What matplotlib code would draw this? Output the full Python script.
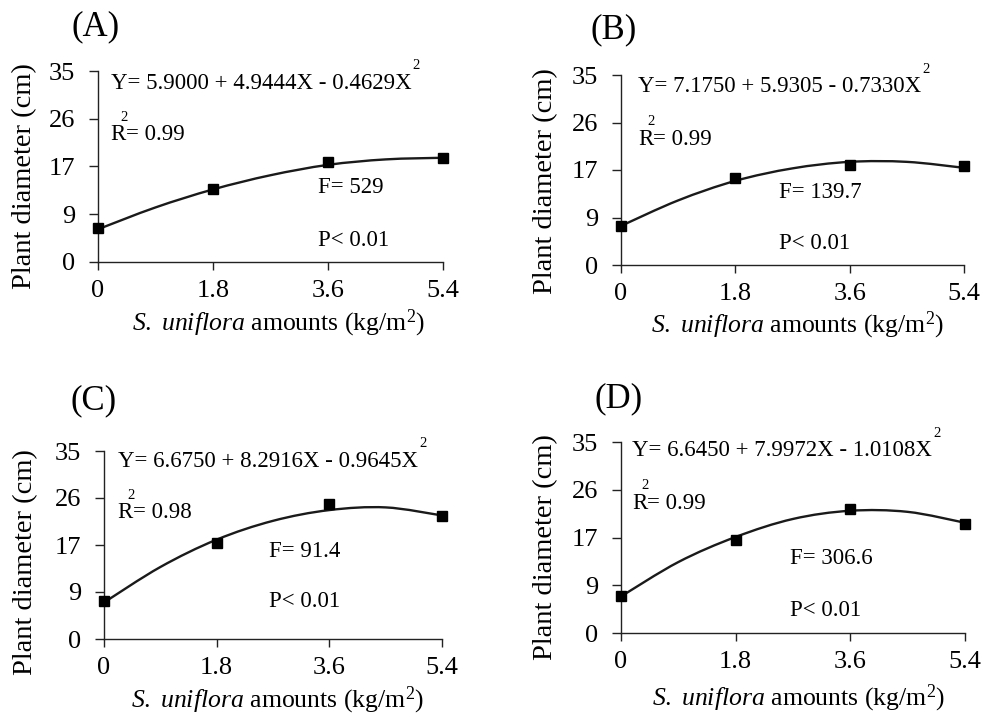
import matplotlib
matplotlib.use('Agg')
import matplotlib.pyplot as plt
from matplotlib.path import Path
from matplotlib.patches import PathPatch

plt.rcParams['font.family'] = ['Liberation Serif', 'DejaVu Serif']
plt.rcParams['mathtext.fontset'] = 'custom'
plt.rcParams['mathtext.rm'] = 'Liberation Serif'
plt.rcParams['mathtext.it'] = 'Liberation Serif:italic'

# ---------------- data ----------------
amounts = [0, 1.8, 3.6, 5.4]
xtick_labels = ['0', '1.8', '3.6', '5.4']
ytick_values = [0, 8.75, 17.5, 26.25, 35]
ytick_labels = ['0', '9', '17', '26', '35']

obs_A = [6.2, 13.4, 18.3, 19.1]
obs_B = [7.1, 16.1, 18.5, 18.2]
obs_C = [7.1, 17.8, 25.2, 22.9]
obs_D = [6.7, 17.0, 22.8, 20.0]

curve_x = [0, 0.9, 1.8, 2.7, 3.6, 4.5, 5.4]
fit_A = [6.0, 10.0, 13.3, 15.9, 17.8, 18.8, 19.1]
fit_B = [7.2, 11.9, 15.5, 17.8, 19.0, 19.0, 17.9]
fit_C = [6.8, 13.4, 18.5, 22.0, 24.0, 24.5, 23.0]
fit_D = [6.7, 13.0, 17.6, 20.9, 22.4, 22.2, 20.2]

panel_names = ['(A)', '(B)', '(C)', '(D)']
equations = ['Y= 5.9000 + 4.9444X - 0.4629X',
             'Y= 7.1750 + 5.9305 - 0.7330X',
             'Y= 6.6750 + 8.2916X - 0.9645X',
             'Y= 6.6450 + 7.9972X - 1.0108X']
r2_values = ['0.99', '0.99', '0.98', '0.99']
f_values = ['529', '139.7', '91.4', '306.6']
p_text = 'P< 0.01'
ylabel_text = 'Plant diameter (cm)'
xlabel_text = r'$\it{S.\ uniflora}$ amounts (kg/m$^2$)'

observed = [obs_A, obs_B, obs_C, obs_D]
fitted = [fit_A, fit_B, fit_C, fit_D]

# ---------------- layout ----------------
W, H = 984, 717
fig = plt.figure(figsize=(W / 100, H / 100), dpi=100)

# axes in pixels: (x0, x1, y_zero, y_top)
axes_px = [(98, 443, 262, 71),
           (621, 964, 265, 75),
           (104, 442, 639, 451),
           (621, 965, 633, 442)]
label_px = [(96, 27), (614, 30), (94, 401), (619, 399)]
text_pos = [  # eq, R, F, P  (data coords)
    [(0.20, 32.8), (0.20, 23.3), (3.44, 13.7), (3.44, 4.0)],
    [(0.27, 32.8), (0.27, 23.2), (2.49, 13.3), (2.49, 3.9)],
    [(0.22, 33.1), (0.22, 23.5), (2.64, 16.2), (2.64, 6.9)],
    [(0.17, 33.4), (0.17, 23.8), (2.65, 13.7), (2.65, 4.2)],
]
ylab_pos = [(-0.212, 0.45), (-0.219, 0.442), (-0.232, 0.41), (-0.218, 0.45)]
xlab_pos = [(0.522, -0.32), (0.516, -0.32), (0.512, -0.324), (0.515, -0.34)]

FS = 16.5


def smooth_path(xs, ys):
    pts = list(zip(xs, ys))
    n = len(pts)
    verts = [pts[0]]
    codes = [Path.MOVETO]
    for i in range(n - 1):
        p0 = pts[i - 1] if i > 0 else pts[i]
        p1 = pts[i]
        p2 = pts[i + 1]
        p3 = pts[i + 2] if i + 2 < n else pts[i + 1]
        c1 = (p1[0] + (p2[0] - p0[0]) / 6, p1[1] + (p2[1] - p0[1]) / 6)
        c2 = (p2[0] - (p3[0] - p1[0]) / 6, p2[1] - (p3[1] - p1[1]) / 6)
        verts += [c1, c2, p2]
        codes += [Path.CURVE4] * 3
    return Path(verts, codes)


for k in range(4):
    x0, x1, yz, yt = axes_px[k]
    ax = fig.add_axes([x0 / W, 1 - yz / H, (x1 - x0) / W, (yz - yt) / H])
    ax.set_xlim(0, 5.4)
    ax.set_ylim(0, 35)
    for s in ['top', 'right']:
        ax.spines[s].set_visible(False)
    for s in ['left', 'bottom']:
        ax.spines[s].set_linewidth(1.0)
        ax.spines[s].set_color('#222222')
    ax.set_xticks(amounts)
    ax.set_xticklabels(xtick_labels)
    ax.set_yticks(ytick_values)
    ax.set_yticklabels(ytick_labels)
    ax.tick_params(axis='y', direction='out', length=6.5, width=1.0, pad=10,
                   labelsize=19, color='#222222')
    ax.tick_params(axis='x', direction='out', length=6, width=1.0, pad=7,
                   labelsize=19, color='#222222')

    patch = PathPatch(smooth_path(curve_x, fitted[k]), facecolor='none',
                      edgecolor='#1a1a1a', lw=1.7, clip_on=False, zorder=3)
    ax.add_patch(patch)
    ax.plot(amounts, observed[k], linestyle='none', marker='s', markersize=7.5,
            color='black', clip_on=False, zorder=4)

    (ex, ey), (rx, ry), (fx, fy), (px_, py) = text_pos[k]
    eq = ax.text(ex, ey, equations[k], fontsize=FS, ha='left', va='center')
    ax.annotate('2', xy=(1, 1), xycoords=eq, xytext=(1, 0.5),
                textcoords='offset points', fontsize=10.5, ha='left',
                va='bottom')
    r = ax.text(rx, ry, 'R', fontsize=FS, ha='left', va='center')
    ax.annotate('= ' + r2_values[k], xy=(1, 0), xycoords=r, fontsize=FS,
                ha='left', va='bottom')
    ax.annotate('2', xy=(0.6, 1), xycoords=r, xytext=(0, 0.3),
                textcoords='offset points', fontsize=10.5, ha='left',
                va='bottom')
    ax.text(fx, fy, 'F= ' + f_values[k], fontsize=FS, ha='left', va='center')
    ax.text(px_, py, p_text, fontsize=FS, ha='left', va='center')

    ax.text(ylab_pos[k][0], ylab_pos[k][1], ylabel_text, transform=ax.transAxes,
            rotation=90, fontsize=20.5, ha='center', va='center')
    ax.text(xlab_pos[k][0], xlab_pos[k][1], xlabel_text, transform=ax.transAxes,
            fontsize=18.5, ha='center', va='center')

    lx, ly = label_px[k]
    fig.text(lx / W, 1 - ly / H, panel_names[k], fontsize=25, ha='center',
             va='center')

fig.savefig('out.png', dpi=100, facecolor='white')
